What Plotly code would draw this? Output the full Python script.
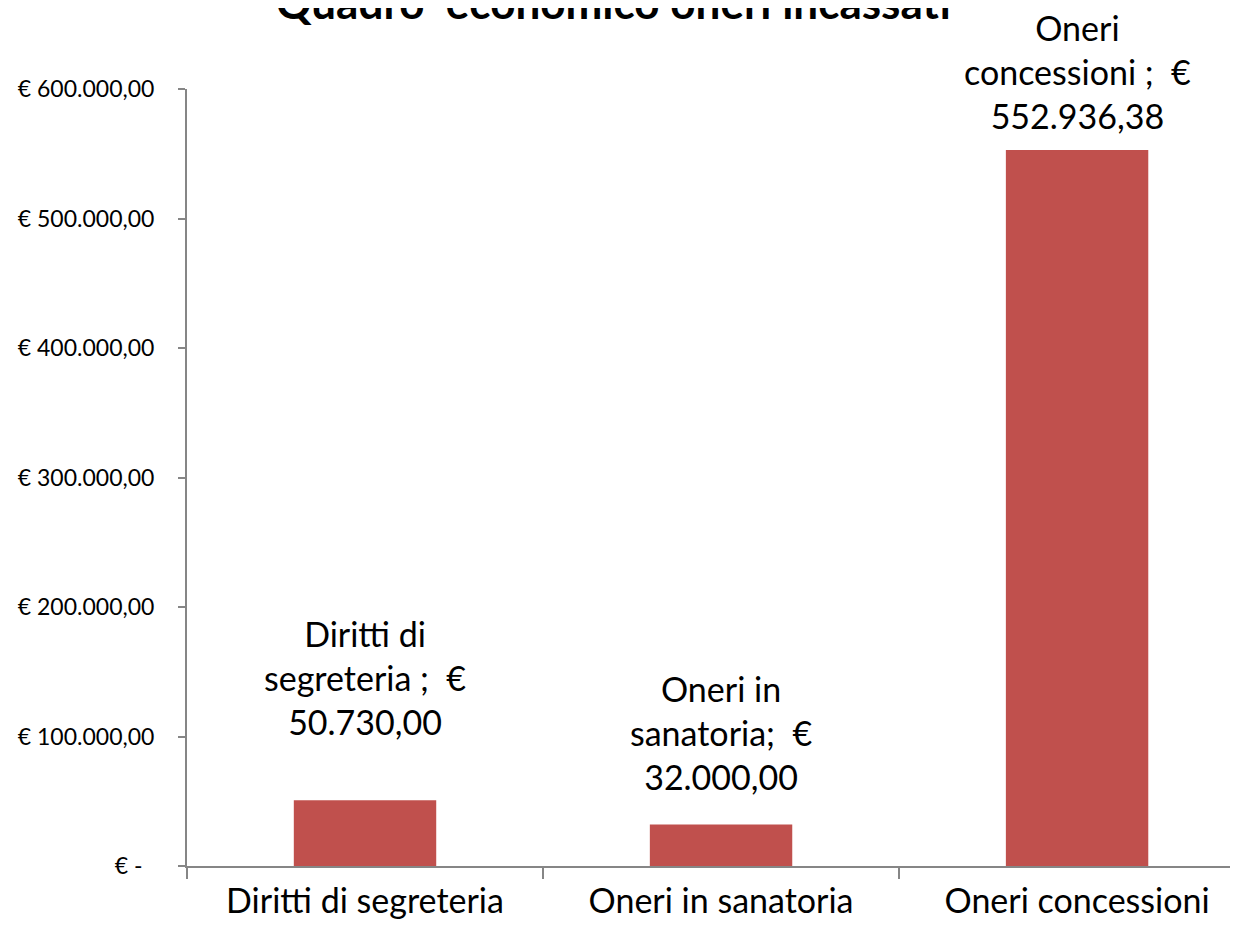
import plotly.graph_objects as go

categories = ["Diritti di segreteria", "Oneri in sanatoria", "Oneri concessioni"]
values = [50730.00, 32000.00, 552936.38]
label_texts = [
    "Diritti di<br>segreteria ;  €<br>50.730,00",
    "Oneri in<br>sanatoria;  €<br>32.000,00",
    "Oneri<br>concessioni ;  €<br>552.936,38",
]
label_shifts = [56, 26, 12]
tick_vals = [0, 100000, 200000, 300000, 400000, 500000, 600000]
tick_text = ["€ -\u00a0\u00a0", "€ 100.000,00", "€ 200.000,00", "€ 300.000,00",
             "€ 400.000,00", "€ 500.000,00", "€ 600.000,00"]
title_text = "Quadro  economico oneri incassati"

FONT = "Lato"
BAR = "#C0504D"
AXIS = "#868686"

fig = go.Figure()
fig.add_trace(go.Bar(x=categories, y=values, width=0.4,
                     marker=dict(color=BAR, line=dict(width=0)),
                     hoverinfo="skip", showlegend=False))

for c, v, t, s in zip(categories, values, label_texts, label_shifts):
    fig.add_annotation(x=c, y=v, xref="x", yref="y", text=t, showarrow=False,
                       yanchor="bottom", xanchor="center", yshift=s,
                       font=dict(family=FONT, size=34, color="black"))

# chart title (partially cut at the top edge, as in the reference)
fig.add_annotation(x=0.406, y=1, xref="paper", yref="paper",
                   text="<b>" + title_text + "</b>", showarrow=False,
                   xanchor="center", yanchor="bottom", yshift=59,
                   font=dict(family=FONT, size=44, color="black"))

fig.update_layout(
    width=1238, height=943,
    paper_bgcolor="white", plot_bgcolor="white",
    margin=dict(l=179, r=8, t=81, b=85),
    font=dict(family=FONT, color="black"),
)
fig.update_xaxes(type="category", range=[-0.5, 2.452],
                 showline=True, linecolor=AXIS, linewidth=2,
                 ticks="outside", tickson="boundaries", ticklen=11,
                 tickcolor=AXIS, tickwidth=1.5,
                 tickfont=dict(family=FONT, size=34, color="black"),
                 ticklabelstandoff=4, showgrid=False, zeroline=False)
fig.update_yaxes(range=[0, 600000], tickvals=tick_vals, ticktext=tick_text,
                 showline=True, linecolor=AXIS, linewidth=2,
                 ticks="outside", ticklen=7, tickcolor=AXIS, tickwidth=1.5,
                 tickfont=dict(family=FONT, size=23, color="black"),
                 ticklabelstandoff=19, showgrid=False, zeroline=False)

fig.write_html("out.html")
